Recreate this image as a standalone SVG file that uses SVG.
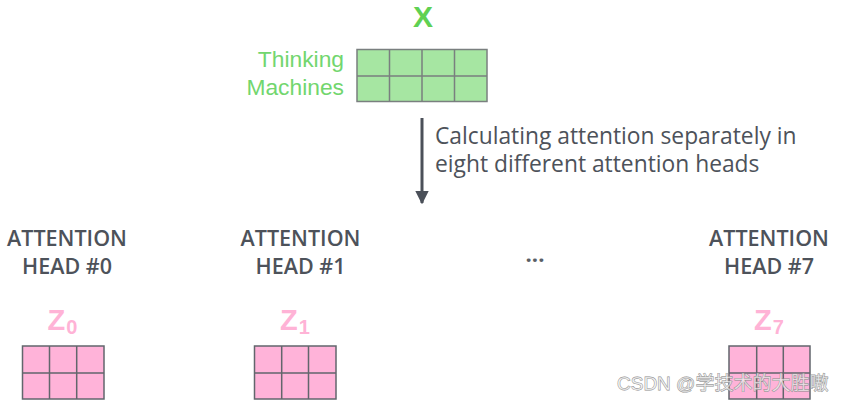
<svg xmlns="http://www.w3.org/2000/svg" width="844" height="404" viewBox="0 0 844 404">
<defs>
<style>
.gcell{fill:#a6e6a2;stroke:#7a7f7f;stroke-width:1.5}
.pcell{fill:#ffb3d9;stroke:#62666c;stroke-width:1.5}
.head{font-family:"Open Sans","Liberation Sans",sans-serif;font-weight:600;font-size:21.5px;fill:#4d525a;text-anchor:middle}
.cap{font-family:"Open Sans","Liberation Sans",sans-serif;font-size:22.8px;fill:#4d525a}
.zl{font-family:"Liberation Sans",Arial,sans-serif;font-weight:bold;fill:#ffb3d6}
.thk{font-family:"Liberation Sans",Arial,sans-serif;font-size:22.8px;fill:#72d66e;text-anchor:end}
</style>
<marker id="arr" viewBox="0 0 10 10" refX="9" refY="5" markerWidth="4.6" markerHeight="4.6" orient="auto" markerUnits="strokeWidth">
<path d="M0,0 L10,5 L0,10 z" fill="#4b5059"/>
</marker>
</defs>
<rect width="844" height="404" fill="#ffffff"/>

<g id="input-x">
<text x="423" y="26.5" font-family="Liberation Sans, Arial, sans-serif" font-weight="bold" font-size="30" fill="#5fd153" text-anchor="middle">X</text>
<text class="thk" x="344" y="67">Thinking</text>
<text class="thk" x="344" y="95">Machines</text>
<rect class="gcell" x="357" y="49.5" width="130" height="52"/>
<path d="M389.5,49.5V101.5M422,49.5V101.5M454.5,49.5V101.5M357,76H487" stroke="#7a7f7f" stroke-width="1.5" fill="none"/>
</g>

<g id="connectors">
<line x1="422" y1="118" x2="422" y2="203" stroke="#4b5059" stroke-width="3" marker-end="url(#arr)"/>
<text class="cap" x="435" y="144">Calculating attention separately in</text>
<text class="cap" x="435" y="172">eight different attention heads</text>
</g>

<g id="head0">
<text class="head" x="67" y="246">ATTENTION</text>
<text class="head" x="67" y="274">HEAD #0</text>
<text class="zl" x="47.5" y="330" font-size="29">Z<tspan font-size="20" dy="4" dx="1">0</tspan></text>
<rect class="pcell" x="22.5" y="346" width="81.5" height="53"/>
<path d="M49.5,346V399M76.7,346V399M22.5,373H104" stroke="#62666c" stroke-width="1.5" fill="none"/>
</g>

<g id="head1">
<text class="head" x="300.5" y="246">ATTENTION</text>
<text class="head" x="300.5" y="274">HEAD #1</text>
<text class="zl" x="280" y="330" font-size="29">Z<tspan font-size="20" dy="4" dx="1">1</tspan></text>
<rect class="pcell" x="254.5" y="346" width="81.5" height="53"/>
<path d="M281.7,346V399M308.5,346V399M254.5,373H336" stroke="#62666c" stroke-width="1.5" fill="none"/>
</g>

<g id="ellipsis">
<text x="535" y="262" font-family="Open Sans, Liberation Sans, sans-serif" font-weight="bold" font-size="22" fill="#5a5f66" text-anchor="middle">...</text>
</g>

<g id="head7">
<text class="head" x="769" y="246">ATTENTION</text>
<text class="head" x="769" y="274">HEAD #7</text>
<text class="zl" x="754" y="330" font-size="29">Z<tspan font-size="20" dy="4" dx="1">7</tspan></text>
<rect class="pcell" x="729" y="346" width="81" height="53"/>
<path d="M756.7,346V399M783.3,346V399M729,373H810" stroke="#62666c" stroke-width="1.5" fill="none"/>
</g>

<text x="617" y="389.5" font-family="Liberation Sans, Noto Sans CJK SC, sans-serif" font-size="19" fill="#ffffff" stroke="#8a8a8a" stroke-width="0.8" paint-order="stroke" fill-opacity="0.6">CSDN @学技术的大胜嗷</text>
</svg>
